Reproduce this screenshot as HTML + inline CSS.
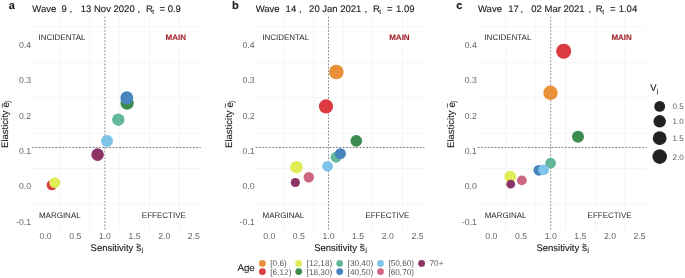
<!DOCTYPE html><html><head><meta charset="utf-8"><style>html,body{margin:0;padding:0;background:#fff;}body{width:685px;height:278px;overflow:hidden;}svg{display:block;will-change:transform;filter:blur(0.3px);}text{font-family:"Liberation Sans", sans-serif;text-rendering:geometricPrecision;}.d{fill:#1a1a1a;stroke:#1a1a1a;stroke-width:0.12px;}.n{fill:#2a2a2a;}</style></head><body>
<svg width="685" height="278" viewBox="0 0 685 278">
<rect width="685" height="278" fill="#fff"/>
<line x1="60.42" y1="16.5" x2="60.42" y2="230.3" stroke="#F2F2F2" stroke-width="0.8"/>
<line x1="90.07" y1="16.5" x2="90.07" y2="230.3" stroke="#F2F2F2" stroke-width="0.8"/>
<line x1="119.72" y1="16.5" x2="119.72" y2="230.3" stroke="#F2F2F2" stroke-width="0.8"/>
<line x1="149.38" y1="16.5" x2="149.38" y2="230.3" stroke="#F2F2F2" stroke-width="0.8"/>
<line x1="179.02" y1="16.5" x2="179.02" y2="230.3" stroke="#F2F2F2" stroke-width="0.8"/>
<line x1="32.50" y1="26.88" x2="200.80" y2="26.88" stroke="#F2F2F2" stroke-width="0.8"/>
<line x1="32.50" y1="62.33" x2="200.80" y2="62.33" stroke="#F2F2F2" stroke-width="0.8"/>
<line x1="32.50" y1="97.78" x2="200.80" y2="97.78" stroke="#F2F2F2" stroke-width="0.8"/>
<line x1="32.50" y1="133.23" x2="200.80" y2="133.23" stroke="#F2F2F2" stroke-width="0.8"/>
<line x1="32.50" y1="168.68" x2="200.80" y2="168.68" stroke="#F2F2F2" stroke-width="0.8"/>
<line x1="32.50" y1="204.12" x2="200.80" y2="204.12" stroke="#F2F2F2" stroke-width="0.8"/>
<line x1="104.90" y1="16.67" x2="104.90" y2="230.3" stroke="#7a7a7a" stroke-width="0.85" stroke-dasharray="1.8 1.55"/>
<line x1="31.95" y1="147.45" x2="200.80" y2="147.45" stroke="#666" stroke-width="0.85" stroke-dasharray="1.9 1.453"/>
<text x="45.60" y="239.3" font-size="8.7" fill="#666" text-anchor="middle">0.0</text>
<text x="75.25" y="239.3" font-size="8.7" fill="#666" text-anchor="middle">0.5</text>
<text x="104.90" y="239.3" font-size="8.7" fill="#666" text-anchor="middle">1.0</text>
<text x="134.55" y="239.3" font-size="8.7" fill="#666" text-anchor="middle">1.5</text>
<text x="164.20" y="239.3" font-size="8.7" fill="#666" text-anchor="middle">2.0</text>
<text x="193.85" y="239.3" font-size="8.7" fill="#666" text-anchor="middle">2.5</text>
<text x="31.00" y="47.60" font-size="8.7" fill="#666" text-anchor="end">0.4</text>
<text x="31.00" y="83.05" font-size="8.7" fill="#666" text-anchor="end">0.3</text>
<text x="31.00" y="118.50" font-size="8.7" fill="#666" text-anchor="end">0.2</text>
<text x="31.00" y="153.95" font-size="8.7" fill="#666" text-anchor="end">0.1</text>
<text x="31.00" y="189.40" font-size="8.7" fill="#666" text-anchor="end">0.0</text>
<text x="31.00" y="224.85" font-size="8.7" fill="#666" text-anchor="end">-0.1</text>
<rect x="36.00" y="31.6" width="52.30" height="11.80" fill="#fff"/>
<rect x="163.00" y="31.6" width="26.00" height="11.80" fill="#fff"/>
<rect x="36.30" y="209.0" width="47.70" height="12.60" fill="#fff"/>
<rect x="139.20" y="209.0" width="49.80" height="12.60" fill="#fff"/>
<text x="38.60" y="40.1" font-size="8" class="n">INCIDENTAL</text>
<text x="165.60" y="40.1" font-size="8" font-weight="bold" fill="#A3262C" stroke="#A3262C" stroke-width="0.12">MAIN</text>
<text x="38.90" y="218.1" font-size="8" class="n">MARGINAL</text>
<text x="141.80" y="218.1" font-size="8" class="n">EFFECTIVE</text>
<text x="90.60" y="250.8" font-size="9.5" class="d">Sensitivity</text>
<text x="136.20" y="250.9" font-size="10.2" class="d">s</text>
<text x="136.10" y="246.6" font-size="8" class="d">~</text>
<text x="141.80" y="251.7" font-size="6" class="d">j</text>
<g transform="translate(8.00,0) rotate(-90)">
<text x="-147.9" y="0" font-size="9.5" class="d">Elasticity</text>
<text x="-107.5" y="0.9" font-size="10" class="d">e</text>
<text x="-107.7" y="-3.5" font-size="8" class="d">~</text>
<text x="-102.5" y="2.4" font-size="6.5" class="d">j</text>
</g>
<text x="32.30" y="11.5" font-size="9.5" class="d">Wave</text>
<text x="61.50" y="11.5" font-size="9.5" class="d">9</text>
<text x="69.60" y="11.5" font-size="9.5" class="d">,</text>
<text x="80.80" y="11.5" font-size="9.5" class="d">13 Nov 2020</text>
<text x="137.40" y="11.5" font-size="9.5" class="d">,</text>
<text x="145.90" y="11.5" font-size="9.5" class="d">R</text>
<text x="152.30" y="13.6" font-size="6.5" class="d">t</text>
<text x="159.50" y="11.5" font-size="9.5" class="d">=</text>
<text x="167.70" y="11.5" font-size="9.5" class="d">0.9</text>
<text x="8.70" y="9.1" font-size="11" font-weight="bold" class="d">a</text>
<line x1="284.02" y1="16.5" x2="284.02" y2="230.3" stroke="#F2F2F2" stroke-width="0.8"/>
<line x1="313.67" y1="16.5" x2="313.67" y2="230.3" stroke="#F2F2F2" stroke-width="0.8"/>
<line x1="343.32" y1="16.5" x2="343.32" y2="230.3" stroke="#F2F2F2" stroke-width="0.8"/>
<line x1="372.97" y1="16.5" x2="372.97" y2="230.3" stroke="#F2F2F2" stroke-width="0.8"/>
<line x1="402.62" y1="16.5" x2="402.62" y2="230.3" stroke="#F2F2F2" stroke-width="0.8"/>
<line x1="256.10" y1="26.88" x2="424.40" y2="26.88" stroke="#F2F2F2" stroke-width="0.8"/>
<line x1="256.10" y1="62.33" x2="424.40" y2="62.33" stroke="#F2F2F2" stroke-width="0.8"/>
<line x1="256.10" y1="97.78" x2="424.40" y2="97.78" stroke="#F2F2F2" stroke-width="0.8"/>
<line x1="256.10" y1="133.23" x2="424.40" y2="133.23" stroke="#F2F2F2" stroke-width="0.8"/>
<line x1="256.10" y1="168.68" x2="424.40" y2="168.68" stroke="#F2F2F2" stroke-width="0.8"/>
<line x1="256.10" y1="204.12" x2="424.40" y2="204.12" stroke="#F2F2F2" stroke-width="0.8"/>
<line x1="328.50" y1="16.67" x2="328.50" y2="230.3" stroke="#7a7a7a" stroke-width="0.85" stroke-dasharray="1.8 1.55"/>
<line x1="255.55" y1="147.45" x2="424.40" y2="147.45" stroke="#666" stroke-width="0.85" stroke-dasharray="1.9 1.453"/>
<text x="269.20" y="239.3" font-size="8.7" fill="#666" text-anchor="middle">0.0</text>
<text x="298.85" y="239.3" font-size="8.7" fill="#666" text-anchor="middle">0.5</text>
<text x="328.50" y="239.3" font-size="8.7" fill="#666" text-anchor="middle">1.0</text>
<text x="358.15" y="239.3" font-size="8.7" fill="#666" text-anchor="middle">1.5</text>
<text x="387.80" y="239.3" font-size="8.7" fill="#666" text-anchor="middle">2.0</text>
<text x="417.45" y="239.3" font-size="8.7" fill="#666" text-anchor="middle">2.5</text>
<text x="254.60" y="47.60" font-size="8.7" fill="#666" text-anchor="end">0.4</text>
<text x="254.60" y="83.05" font-size="8.7" fill="#666" text-anchor="end">0.3</text>
<text x="254.60" y="118.50" font-size="8.7" fill="#666" text-anchor="end">0.2</text>
<text x="254.60" y="153.95" font-size="8.7" fill="#666" text-anchor="end">0.1</text>
<text x="254.60" y="189.40" font-size="8.7" fill="#666" text-anchor="end">0.0</text>
<text x="254.60" y="224.85" font-size="8.7" fill="#666" text-anchor="end">-0.1</text>
<rect x="259.60" y="31.6" width="52.30" height="11.80" fill="#fff"/>
<rect x="386.60" y="31.6" width="26.00" height="11.80" fill="#fff"/>
<rect x="259.90" y="209.0" width="47.70" height="12.60" fill="#fff"/>
<rect x="362.80" y="209.0" width="49.80" height="12.60" fill="#fff"/>
<text x="262.20" y="40.1" font-size="8" class="n">INCIDENTAL</text>
<text x="389.20" y="40.1" font-size="8" font-weight="bold" fill="#A3262C" stroke="#A3262C" stroke-width="0.12">MAIN</text>
<text x="262.50" y="218.1" font-size="8" class="n">MARGINAL</text>
<text x="365.40" y="218.1" font-size="8" class="n">EFFECTIVE</text>
<text x="314.20" y="250.8" font-size="9.5" class="d">Sensitivity</text>
<text x="359.80" y="250.9" font-size="10.2" class="d">s</text>
<text x="359.70" y="246.6" font-size="8" class="d">~</text>
<text x="365.40" y="251.7" font-size="6" class="d">j</text>
<g transform="translate(231.60,0) rotate(-90)">
<text x="-147.9" y="0" font-size="9.5" class="d">Elasticity</text>
<text x="-107.5" y="0.9" font-size="10" class="d">e</text>
<text x="-107.7" y="-3.5" font-size="8" class="d">~</text>
<text x="-102.5" y="2.4" font-size="6.5" class="d">j</text>
</g>
<text x="255.70" y="11.5" font-size="9.5" class="d">Wave</text>
<text x="285.60" y="11.5" font-size="9.5" class="d">14</text>
<text x="299.00" y="11.5" font-size="9.5" class="d">,</text>
<text x="309.10" y="11.5" font-size="9.5" class="d">20 Jan 2021</text>
<text x="364.40" y="11.5" font-size="9.5" class="d">,</text>
<text x="372.90" y="11.5" font-size="9.5" class="d">R</text>
<text x="379.30" y="13.6" font-size="6.5" class="d">t</text>
<text x="386.90" y="11.5" font-size="9.5" class="d">=</text>
<text x="396.00" y="11.5" font-size="9.5" class="d">1.09</text>
<text x="231.90" y="9.1" font-size="11" font-weight="bold" class="d">b</text>
<line x1="506.23" y1="16.5" x2="506.23" y2="230.3" stroke="#F2F2F2" stroke-width="0.8"/>
<line x1="535.88" y1="16.5" x2="535.88" y2="230.3" stroke="#F2F2F2" stroke-width="0.8"/>
<line x1="565.53" y1="16.5" x2="565.53" y2="230.3" stroke="#F2F2F2" stroke-width="0.8"/>
<line x1="595.18" y1="16.5" x2="595.18" y2="230.3" stroke="#F2F2F2" stroke-width="0.8"/>
<line x1="624.83" y1="16.5" x2="624.83" y2="230.3" stroke="#F2F2F2" stroke-width="0.8"/>
<line x1="478.30" y1="26.88" x2="646.60" y2="26.88" stroke="#F2F2F2" stroke-width="0.8"/>
<line x1="478.30" y1="62.33" x2="646.60" y2="62.33" stroke="#F2F2F2" stroke-width="0.8"/>
<line x1="478.30" y1="97.78" x2="646.60" y2="97.78" stroke="#F2F2F2" stroke-width="0.8"/>
<line x1="478.30" y1="133.23" x2="646.60" y2="133.23" stroke="#F2F2F2" stroke-width="0.8"/>
<line x1="478.30" y1="168.68" x2="646.60" y2="168.68" stroke="#F2F2F2" stroke-width="0.8"/>
<line x1="478.30" y1="204.12" x2="646.60" y2="204.12" stroke="#F2F2F2" stroke-width="0.8"/>
<line x1="550.70" y1="16.67" x2="550.70" y2="230.3" stroke="#7a7a7a" stroke-width="0.85" stroke-dasharray="1.8 1.55"/>
<line x1="477.75" y1="147.45" x2="646.60" y2="147.45" stroke="#666" stroke-width="0.85" stroke-dasharray="1.9 1.453"/>
<text x="491.40" y="239.3" font-size="8.7" fill="#666" text-anchor="middle">0.0</text>
<text x="521.05" y="239.3" font-size="8.7" fill="#666" text-anchor="middle">0.5</text>
<text x="550.70" y="239.3" font-size="8.7" fill="#666" text-anchor="middle">1.0</text>
<text x="580.35" y="239.3" font-size="8.7" fill="#666" text-anchor="middle">1.5</text>
<text x="610.00" y="239.3" font-size="8.7" fill="#666" text-anchor="middle">2.0</text>
<text x="639.65" y="239.3" font-size="8.7" fill="#666" text-anchor="middle">2.5</text>
<text x="476.80" y="47.60" font-size="8.7" fill="#666" text-anchor="end">0.4</text>
<text x="476.80" y="83.05" font-size="8.7" fill="#666" text-anchor="end">0.3</text>
<text x="476.80" y="118.50" font-size="8.7" fill="#666" text-anchor="end">0.2</text>
<text x="476.80" y="153.95" font-size="8.7" fill="#666" text-anchor="end">0.1</text>
<text x="476.80" y="189.40" font-size="8.7" fill="#666" text-anchor="end">0.0</text>
<text x="476.80" y="224.85" font-size="8.7" fill="#666" text-anchor="end">-0.1</text>
<rect x="481.80" y="31.6" width="52.30" height="11.80" fill="#fff"/>
<rect x="608.80" y="31.6" width="26.00" height="11.80" fill="#fff"/>
<rect x="482.10" y="209.0" width="47.70" height="12.60" fill="#fff"/>
<rect x="585.00" y="209.0" width="49.80" height="12.60" fill="#fff"/>
<text x="484.40" y="40.1" font-size="8" class="n">INCIDENTAL</text>
<text x="611.40" y="40.1" font-size="8" font-weight="bold" fill="#A3262C" stroke="#A3262C" stroke-width="0.12">MAIN</text>
<text x="484.70" y="218.1" font-size="8" class="n">MARGINAL</text>
<text x="587.60" y="218.1" font-size="8" class="n">EFFECTIVE</text>
<text x="536.40" y="250.8" font-size="9.5" class="d">Sensitivity</text>
<text x="582.00" y="250.9" font-size="10.2" class="d">s</text>
<text x="581.90" y="246.6" font-size="8" class="d">~</text>
<text x="587.60" y="251.7" font-size="6" class="d">j</text>
<g transform="translate(453.80,0) rotate(-90)">
<text x="-147.9" y="0" font-size="9.5" class="d">Elasticity</text>
<text x="-107.5" y="0.9" font-size="10" class="d">e</text>
<text x="-107.7" y="-3.5" font-size="8" class="d">~</text>
<text x="-102.5" y="2.4" font-size="6.5" class="d">j</text>
</g>
<text x="478.00" y="11.5" font-size="9.5" class="d">Wave</text>
<text x="508.20" y="11.5" font-size="9.5" class="d">17</text>
<text x="520.60" y="11.5" font-size="9.5" class="d">,</text>
<text x="531.30" y="11.5" font-size="9.5" class="d">02 Mar 2021</text>
<text x="588.60" y="11.5" font-size="9.5" class="d">,</text>
<text x="595.80" y="11.5" font-size="9.5" class="d">R</text>
<text x="602.20" y="13.6" font-size="6.5" class="d">t</text>
<text x="610.10" y="11.5" font-size="9.5" class="d">=</text>
<text x="618.70" y="11.5" font-size="9.5" class="d">1.04</text>
<text x="456.20" y="9.1" font-size="11" font-weight="bold" class="d">c</text>
<circle cx="51.8" cy="185.1" r="5.2" fill="#DB3B40"/>
<circle cx="54.7" cy="182.6" r="5.45" fill="#E1ED55"/>
<circle cx="97.6" cy="154.6" r="6.3" fill="#8B3465"/>
<circle cx="107.0" cy="141.0" r="6.0" fill="#7EC3E8"/>
<circle cx="118.3" cy="119.7" r="6.25" fill="#63B89B"/>
<circle cx="127.1" cy="103.2" r="6.6" fill="#3D8B4F"/>
<circle cx="126.8" cy="97.8" r="6.5" fill="#4884BE"/>
<circle cx="336.3" cy="72.0" r="7.35" fill="#EA9038"/>
<circle cx="326.0" cy="106.4" r="7.1" fill="#DB3B40"/>
<circle cx="356.3" cy="140.8" r="5.85" fill="#3D8B4F"/>
<circle cx="336.1" cy="157.2" r="5.5" fill="#63B89B"/>
<circle cx="340.4" cy="153.7" r="5.55" fill="#4884BE"/>
<circle cx="327.6" cy="166.3" r="5.4" fill="#7EC3E8"/>
<circle cx="296.5" cy="167.2" r="6.25" fill="#E1ED55"/>
<circle cx="295.3" cy="182.5" r="4.6" fill="#8B3465"/>
<circle cx="308.8" cy="177.3" r="5.2" fill="#CD6680"/>
<circle cx="563.7" cy="51.2" r="7.55" fill="#DB3B40"/>
<circle cx="550.5" cy="92.8" r="7.2" fill="#EA9038"/>
<circle cx="578.0" cy="136.8" r="6.0" fill="#3D8B4F"/>
<circle cx="550.6" cy="163.2" r="5.4" fill="#63B89B"/>
<circle cx="538.8" cy="170.3" r="5.4" fill="#4884BE"/>
<circle cx="543.6" cy="169.8" r="5.4" fill="#7EC3E8"/>
<circle cx="510.3" cy="176.6" r="5.9" fill="#E1ED55"/>
<circle cx="510.7" cy="184.2" r="4.4" fill="#8B3465"/>
<circle cx="521.9" cy="180.4" r="4.9" fill="#CD6680"/>
<text x="650.2" y="91.4" font-size="9.3" class="d">V</text>
<text x="656.9" y="93.2" font-size="6.3" class="d">j</text>
<circle cx="659.7" cy="106.4" r="5.4" fill="#222"/>
<text x="672.6" y="109.30" font-size="8" fill="#5a5a5a">0.5</text>
<circle cx="659.7" cy="121.3" r="6.2" fill="#222"/>
<text x="672.6" y="124.20" font-size="8" fill="#5a5a5a">1.0</text>
<circle cx="659.7" cy="138.2" r="6.9" fill="#222"/>
<text x="672.6" y="141.10" font-size="8" fill="#5a5a5a">1.5</text>
<circle cx="659.7" cy="156.6" r="7.3" fill="#222"/>
<text x="672.6" y="159.50" font-size="8" fill="#5a5a5a">2.0</text>
<text x="237.4" y="270.9" font-size="9.8" class="d">Age</text>
<circle cx="262.4" cy="263.4" r="3.4" fill="#EA9038"/>
<text x="270.30" y="266.35" font-size="8.25" fill="#5a5a5a">[0,6)</text>
<circle cx="262.4" cy="271.6" r="3.4" fill="#DB3B40"/>
<text x="270.30" y="274.55" font-size="8.25" fill="#5a5a5a">[6,12)</text>
<circle cx="298.7" cy="263.4" r="3.4" fill="#E1ED55"/>
<text x="306.60" y="266.35" font-size="8.25" fill="#5a5a5a">[12,18)</text>
<circle cx="298.7" cy="271.6" r="3.4" fill="#3D8B4F"/>
<text x="306.60" y="274.55" font-size="8.25" fill="#5a5a5a">[18,30)</text>
<circle cx="339.7" cy="263.4" r="3.4" fill="#63B89B"/>
<text x="347.60" y="266.35" font-size="8.25" fill="#5a5a5a">[30,40)</text>
<circle cx="339.7" cy="271.6" r="3.4" fill="#4884BE"/>
<text x="347.60" y="274.55" font-size="8.25" fill="#5a5a5a">[40,50)</text>
<circle cx="380.5" cy="263.4" r="3.4" fill="#7EC3E8"/>
<text x="388.40" y="266.35" font-size="8.25" fill="#5a5a5a">[50,60)</text>
<circle cx="380.5" cy="271.6" r="3.4" fill="#CD6680"/>
<text x="388.40" y="274.55" font-size="8.25" fill="#5a5a5a">[60,70)</text>
<circle cx="421.6" cy="263.4" r="3.4" fill="#8B3465"/>
<text x="429.50" y="266.35" font-size="8.25" fill="#5a5a5a">70+</text>
</svg></body></html>
